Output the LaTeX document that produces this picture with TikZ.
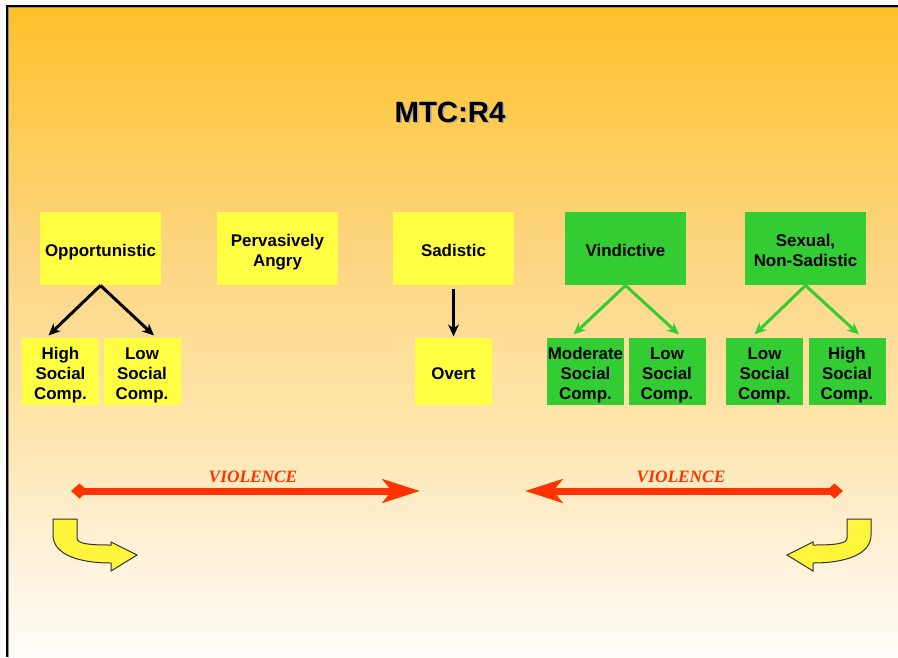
\documentclass[tikz,border=0pt]{standalone}
\usepackage{fontspec}
\setmainfont{Liberation Sans}
\newfontfamily\violfont{Liberation Serif}
\usetikzlibrary{arrows.meta,calc}

\definecolor{boxyellow}{RGB}{255,255,68}
\definecolor{boxgreen}{RGB}{51,204,51}
\definecolor{violred}{RGB}{255,51,0}
\definecolor{bendyellow}{RGB}{255,245,60}
\definecolor{bgA}{RGB}{255,193,43}
\definecolor{bgB}{RGB}{255,203,80}
\definecolor{bgC}{RGB}{253,213,128}
\definecolor{bgD}{RGB}{254,229,172}
\definecolor{bgE}{RGB}{255,244,226}
\definecolor{bgF}{RGB}{255,253,249}

% shading box maps onto 25bp--75bp
\pgfdeclareverticalshading{slidebg}{100bp}{color(0bp)=(bgF); color(25bp)=(bgF); color(31bp)=(bgE); color(43bp)=(bgD); color(56.5bp)=(bgC); color(66.5bp)=(bgB); color(75bp)=(bgA); color(100bp)=(bgA)}

\tikzset{every picture/.style={line width=0.75pt}}
\tikzset{
  boxtext/.style={inner sep=0pt, align=center, font=\bfseries\fontsize{12.7}{15}\selectfont, text depth=3.5pt},
  bigbox/.style={boxtext, minimum width=90.75pt, minimum height=54.75pt, text height=#1},
  bigbox/.default=16pt,
  smallbox/.style={boxtext, minimum width=57.75pt, minimum height=50.25pt, text height=#1},
  smallbox/.default=16pt,
  blkarrow/.style={draw=black, line width=2.25pt, -{Stealth[length=9pt,width=8pt]}},
  grnarrow/.style={draw=boxgreen, line width=2.25pt, -{Stealth[length=9pt,width=8pt]}},
  violarrow/.style={draw=violred, line width=5.25pt, {Diamond[length=12.75pt,width=11.25pt]}-{Stealth[length=28pt,width=17.5pt,inset=7pt]}},
  violtext/.style={text=violred, font=\violfont\bfseries\itshape\fontsize{13}{15}\selectfont},
  bendarrow/.style={fill=bendyellow, draw=black!80, line width=0.75pt}
}

\begin{document}
\begin{tikzpicture}[x=0.75pt,y=0.75pt,yscale=-1,xscale=1]
\useasboundingbox (0,0) rectangle (898,657);

%Shape: Background
\fill[white] (0,0) rectangle (898,657);
\shade[shading=slidebg] (8,7) rectangle (898,657);
\draw[black!45, line width=0.75pt] (8.5,657) -- (8.5,7.5) -- (898,7.5);
\draw[black, line width=1.5pt] (6.5,657) -- (6.5,6) -- (898,6);

% Title
\node[text=black!35, font=\bfseries\fontsize{22}{26}\selectfont] (titleshadow) at (451.5,113.5) {MTC:R4};
\node[font=\bfseries\fontsize{22}{26}\selectfont] (title) at (450,112) {MTC:R4};

% Top row
\node[bigbox, fill=boxyellow] (opp) at (100.5,248.5) {Opportunistic};
\node[bigbox=31pt, fill=boxyellow] (angry) at (277.5,248.5) {Pervasively\\Angry};
\node[bigbox, fill=boxyellow] (sad) at (453.5,248.5) {Sadistic};
\node[bigbox, fill=boxgreen] (vind) at (625.5,248.5) {Vindictive};
\node[bigbox=31pt, fill=boxgreen] (sex) at (805.5,248.5) {Sexual,\\Non-Sadistic};

% Bottom row
\node[smallbox=46pt, fill=boxyellow] (opphigh) at (60.5,371.5) {High\\Social\\Comp.};
\node[smallbox=46pt, fill=boxyellow] (opplow) at (142,371.5) {Low\\Social\\Comp.};
\node[smallbox, fill=boxyellow] (overt) at (453.5,371.5) {Overt};
\node[smallbox=46pt, fill=boxgreen] (vindmod) at (585.5,371.5) {Moderate\\Social\\Comp.};
\node[smallbox=46pt, fill=boxgreen] (vindlow) at (667,371.5) {Low\\Social\\Comp.};
\node[smallbox=46pt, fill=boxgreen] (sexlow) at (764.5,371.5) {Low\\Social\\Comp.};
\node[smallbox=46pt, fill=boxgreen] (sexhigh) at (847,371.5) {High\\Social\\Comp.};

%Straight Lines
\draw[blkarrow] (opp.south) -- ($(opphigh.north)+(-12,-2)$);
\draw[blkarrow] (opp.south) -- ($(opplow.north)+(12,-2)$);
\draw[blkarrow] ($(sad.south)+(0,3)$) -- ($(overt.north)+(0,-1)$);
\draw[grnarrow] (vind.south) -- ($(vindmod.north)+(-12,-3)$);
\draw[grnarrow] (vind.south) -- ($(vindlow.north)+(12,-3)$);
\draw[grnarrow] (sex.south) -- ($(sexlow.north)+(-10,-3)$);
\draw[grnarrow] (sex.south) -- ($(sexhigh.north)+(12,-3)$);

% Violence arrows
\coordinate (violLs) at (71,491);
\coordinate (violLe) at (420,491);
\coordinate (violRs) at (843,491);
\coordinate (violRe) at (525,491);
\draw[violarrow] (violLs) -- (violLe);
\draw[violarrow] (violRs) -- (violRe);
% Text Node
\node[violtext] (violL) at (253,477) {VIOLENCE};
% Text Node
\node[violtext] (violR) at (681,477) {VIOLENCE};

%Shape: Bent Arrow (left)
\draw[bendarrow] (53,519) -- (77,519) -- (77,538) .. controls (77,544) and (90,545) .. (111,545) -- (111,542) -- (137,555) -- (111,571) -- (111,563) .. controls (80,563) and (53,555) .. (53,535) -- cycle;
%Shape: Bent Arrow (right)
\draw[bendarrow] (871,519) -- (847,519) -- (847,538) .. controls (847,544) and (834,545) .. (813,545) -- (813,542) -- (787,555) -- (813,571) -- (813,563) .. controls (844,563) and (871,555) .. (871,535) -- cycle;

\end{tikzpicture}
\end{document}
